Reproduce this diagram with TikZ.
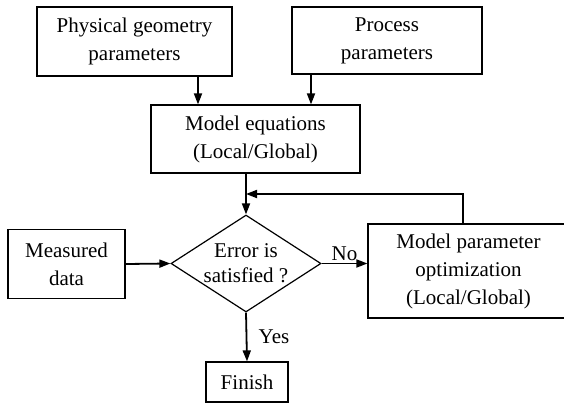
\documentclass[tikz,border=0pt]{standalone}
\usepackage{fontspec}
\setmainfont{Liberation Serif}
\usetikzlibrary{shapes.geometric, arrows.meta, positioning, calc}

\begin{document}
\begin{tikzpicture}[x=1pt, y=-1pt,
    box/.style={draw, line width=1.2pt, align=center, inner sep=0pt,
        font=\rmfamily\fontsize{21}{28}\selectfont},
    decision/.style={draw, diamond, line width=1.2pt, align=center, inner sep=0pt,
        aspect=1.55, font=\rmfamily\fontsize{21}{25}\selectfont},
    lbl/.style={font=\rmfamily\fontsize{21}{25}\selectfont},
    arr/.style={-{Triangle[length=11pt,width=8pt]}, line width=1.8pt}]
    \useasboundingbox (0,0) rectangle (564,409);

    % Inputs
    \node[box, minimum width=195pt, minimum height=69pt] (phys) at (134.5,41.5) {Physical geometry\\parameters};
    \node[box, minimum width=190pt, minimum height=67pt] (proc) at (387,40.5) {Process\\parameters};

    % Model
    \node[box, minimum width=209pt, minimum height=68pt] (model) at (255.5,139) {Model equations\\(Local/Global)};

    % Check
    \node[decision, minimum width=150pt, minimum height=97pt] (check) at (246,263.5) {Error is\\satisfied ?};
    \node[box, minimum width=117pt, minimum height=69pt] (meas) at (66.5,264) {Measured\\data};
    \node[box, minimum width=201pt, minimum height=94pt] (optim) at (468.5,271) {Model parameter\\optimization\\(Local/Global)};
    \node[box, minimum width=82pt, minimum height=40pt] (finish) at (247,382) {Finish};

    % Feet of the connectors
    \coordinate (physout) at (198,76);
    \coordinate (procout) at (311,74);
    \coordinate (optimout) at (463,224);
    \coordinate (loopin) at (246,194);

    % Connectors
    \draw[arr] (physout) -- (physout |- model.north);
    \draw[arr] (procout) -- (procout |- model.north);
    \draw[arr] (model.south -| check.north) -- (check.north);
    \draw[arr] (optimout) |- (loopin);
    \draw[arr] (meas.east) -- (check.west);
    \draw[arr] (check.east) -- (check.east -| optim.west)
        node[midway, above, inner sep=2pt, lbl] {No};
    \draw[arr] (check.south) -- (finish.north)
        node[midway, right, xshift=8pt, lbl] {Yes};
\end{tikzpicture}
\end{document}
